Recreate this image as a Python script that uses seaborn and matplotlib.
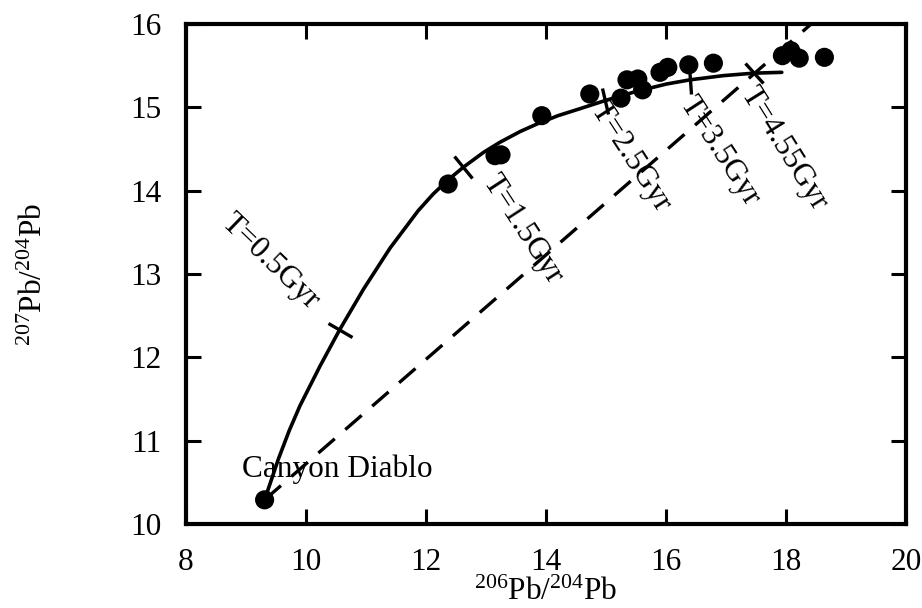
import numpy as np
import pandas as pd
import matplotlib
matplotlib.use("Agg")
import matplotlib.pyplot as plt
from matplotlib.markers import MarkerStyle
from matplotlib.transforms import Affine2D
import seaborn as sns

# Measured lead isotope ratios (Canyon Diablo troilite first)
pb206_204 = [9.31, 12.37, 13.15, 13.25, 13.93, 14.73, 15.25, 15.35, 15.53, 15.61,
             15.90, 16.03, 16.38, 16.79, 17.94, 18.08, 18.22, 18.64]
pb207_204 = [10.29, 14.08, 14.42, 14.43, 14.90, 15.16, 15.11, 15.33, 15.34, 15.21,
             15.42, 15.48, 15.51, 15.53, 15.62, 15.68, 15.59, 15.60]

# Single-stage lead growth curve
growth_x = [9.31, 9.54, 9.72, 9.90, 10.23, 10.56, 10.96, 11.40, 11.87, 12.12, 12.37,
            12.62, 12.96, 13.23, 13.57, 13.85, 14.20, 14.55, 14.98, 15.50, 16.01,
            16.40, 16.95, 17.46, 17.93]
growth_y = [10.29, 10.78, 11.12, 11.42, 11.89, 12.33, 12.82, 13.31, 13.76, 13.96, 14.13,
            14.28, 14.46, 14.58, 14.71, 14.80, 14.90, 14.98, 15.08, 15.19, 15.28,
            15.33, 15.38, 15.41, 15.42]

# Geochron through Canyon Diablo
geochron_x = [9.31, 18.42]
geochron_y = [10.29, 16.00]

# Age marks along the growth curve
age_labels = ["T=0.5Gyr", "T=1.5Gyr", "T=2.5Gyr", "T=3.5Gyr", "T=4.55Gyr"]
age_x = [10.56, 12.62, 14.98, 16.40, 17.46]
age_y = [12.33, 14.28, 15.08, 15.33, 15.41]
age_tick_angle = [-28, -50, -76, -84, -48]
age_text_x = [8.65, 13.05, 14.85, 16.33, 17.35]
age_text_y = [13.67, 14.16, 15.03, 15.10, 15.22]
age_text_rot = [-44, -57, -57, -57, -58]

x_ticks = [8, 10, 12, 14, 16, 18, 20]
y_ticks = [10, 11, 12, 13, 14, 15, 16]

sns.set_theme(style="ticks")
plt.rcParams["font.family"] = ["Liberation Serif", "DejaVu Serif"]
plt.rcParams["mathtext.fontset"] = "custom"
plt.rcParams["mathtext.rm"] = "Liberation Serif"
plt.rcParams["mathtext.it"] = "Liberation Serif:italic"
plt.rcParams["mathtext.bf"] = "Liberation Serif:bold"

FS = 22.5
fig = plt.figure(figsize=(9.22, 6.08), dpi=100)
ax = fig.add_axes([186 / 922, 1 - 524 / 608, 720 / 922, 500 / 608])

growth = pd.DataFrame({"x": growth_x, "y": growth_y})
sns.lineplot(data=growth, x="x", y="y", sort=False, estimator=None,
             color="black", lw=2.6, ax=ax)

ax.plot(geochron_x, geochron_y, color="black", lw=2.4, dashes=(6.5, 4.2),
        dash_capstyle="butt")

pts = pd.DataFrame({"x": pb206_204, "y": pb207_204})
sns.scatterplot(data=pts, x="x", y="y", s=190, color="black",
                edgecolor="none", linewidth=0, ax=ax, zorder=4)

for lab, x, y, ang, tx, ty, rot in zip(age_labels, age_x, age_y, age_tick_angle,
                                       age_text_x, age_text_y, age_text_rot):
    m = MarkerStyle("_", transform=Affine2D().rotate_deg(ang))
    ax.plot([x], [y], marker=m, ms=20, mew=2.4, color="black", ls="none")
    ax.text(tx, ty, lab, rotation=rot, rotation_mode="anchor", ha="left",
            va="center", fontsize=FS, color="black")

ax.text(8.93, 10.57, "Canyon Diablo", fontsize=FS, ha="left",
        va="baseline", color="black")

ax.set_xlim(8, 20)
ax.set_ylim(10, 16)
ax.set_xticks(x_ticks)
ax.set_yticks(y_ticks)
ax.set_xticklabels([str(v) for v in x_ticks])
ax.set_yticklabels([str(v) for v in y_ticks])

for s in ax.spines.values():
    s.set_linewidth(3)
    s.set_color("black")
    s.set_visible(True)

ax.tick_params(axis="both", which="major", direction="in", length=11,
               width=2.2, color="black", labelsize=FS, labelcolor="black",
               top=True, right=True)
ax.tick_params(axis="x", pad=17.5)
ax.tick_params(axis="y", pad=18)

ax.set_xlabel(r"$^{206}$Pb/$^{204}$Pb", fontsize=FS, color="black")
ax.set_ylabel(r"$^{207}$Pb/$^{204}$Pb", fontsize=FS, color="black")
ax.xaxis.set_label_coords(0.5, -0.108)
ax.yaxis.set_label_coords(-0.19, 0.5)

fig.savefig("out.png", dpi=100, facecolor="white")
